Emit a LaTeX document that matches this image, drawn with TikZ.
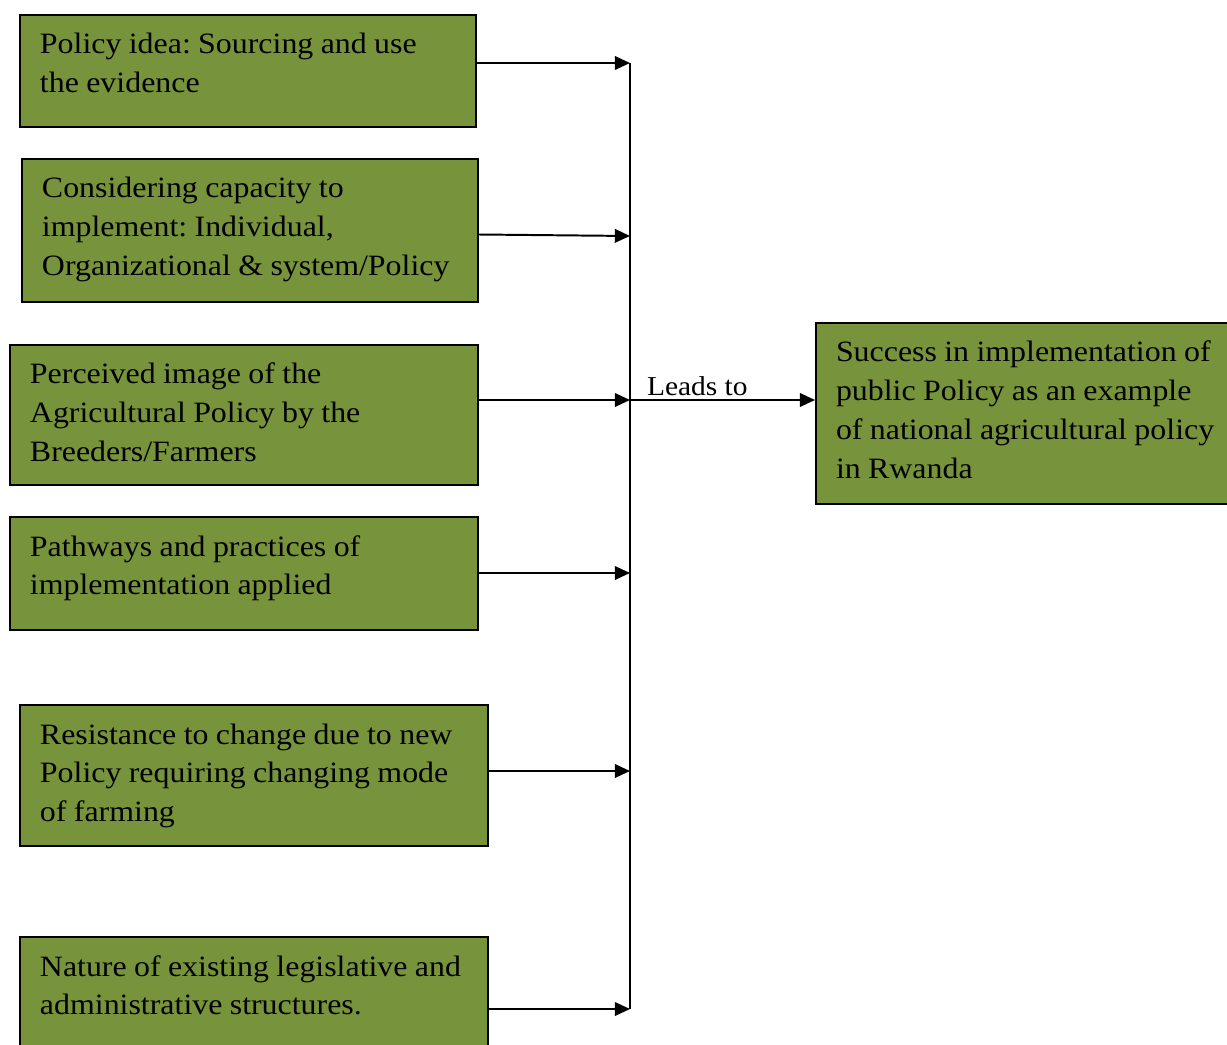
\documentclass[tikz,border=0pt]{standalone}
\usepackage{fontspec}
\setmainfont{Liberation Serif}[FakeStretch=1.08]
\usetikzlibrary{arrows.meta,calc}
\definecolor{olivebox}{RGB}{119,147,60}
\frenchspacing
\begin{document}
\begin{tikzpicture}[x=0.0125cm,y=-0.0125cm,
        factor/.style={draw=black,line width=0.7pt,fill=olivebox,align=left,anchor=north west,
            inner xsep=0.25cm,inner ysep=0pt,text height=0.4875cm,
            font=\fontsize{10.5pt}{13.85pt}\selectfont,
            execute at begin node={\spaceskip=0.25em plus 0.1em minus 0.1em\relax}},
        link/.style={line width=0.7pt,-{Triangle[length=0.19cm,width=0.17cm]}},
        bus/.style={line width=0.7pt}]
    \useasboundingbox (0,0) rectangle (1227,1045);
    % Factor boxes on the left
    \node[factor,text width=5.2cm,text depth=0.9125cm] (f1) at (19,14) {Policy idea: Sourcing and use\\the evidence};
    \node[factor,text width=5.2cm,text depth=1.3cm] (f2) at (21,158) {Considering capacity to\\implement: Individual,\\Organizational \& system/Policy};
    \node[factor,text width=5.35cm,text depth=1.2625cm] (f3) at (9,344) {Perceived image of the\\Agricultural Policy by the\\Breeders/Farmers};
    \node[factor,text width=5.35cm,text depth=0.925cm] (f4) at (9,516) {Pathways and practices of\\implementation applied};
    \node[factor,text width=5.35cm,text depth=1.275cm] (f5) at (19,704) {Resistance to change due to new\\Policy requiring changing mode\\of farming};
    \node[factor,text width=5.35cm,text depth=1.0625cm] (f6) at (19,936) {Nature of existing legislative and\\administrative structures.};
    % Outcome box on the right
    \node[factor,text width=5.0cm,text depth=1.775cm] (out) at (815,322) {Success in implementation of\\public Policy as an example\\of national agricultural policy\\in Rwanda};
    % Collecting line
    \coordinate (j1) at (630,63);
    \coordinate (j2) at (630,236);
    \coordinate (j3) at (630,400);
    \coordinate (j4) at (630,573);
    \coordinate (j5) at (630,771);
    \coordinate (j6) at (630,1009);
    \draw[bus] (j1) -- (j6);
    \draw[link] (f1.east |- j1) -- (j1);
    \draw[link] ($(f2.east)+(0,4)$) -- (j2);
    \draw[link] (f3.east |- j3) -- (j3);
    \draw[link] (f4.east |- j4) -- (j4);
    \draw[link] (f5.east |- j5) -- (j5);
    \draw[link] (f6.east |- j6) -- (j6);
    \draw[link] (j3) -- (out.west |- j3)
        node[pos=0,anchor=base west,inner sep=0pt,xshift=0.2cm,yshift=0.06cm,
            font=\fontsize{9.7pt}{13.85pt}\selectfont] (lead) {Leads to};
\end{tikzpicture}
\end{document}
